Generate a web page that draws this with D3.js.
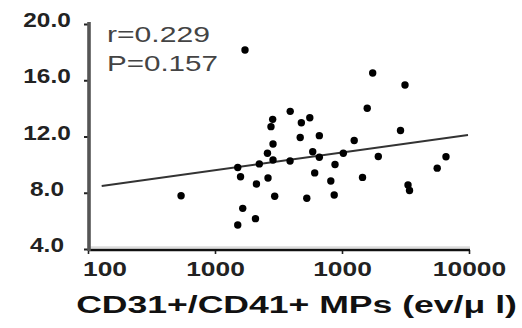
<!DOCTYPE html>
<html><head><meta charset="utf-8">
<script src="https://cdn.jsdelivr.net/npm/d3@7"></script>
<style>body{margin:0;background:#fff}svg{display:block}</style>
</head><body>
<script>
// ---- data ----
const xValues = [308, 667, 611, 632, 766, 649, 757, 611, 793, 875,
                 936, 881, 955, 936, 932, 913, 1152, 1318, 1460, 1300,
                 1638, 1150, 1512, 1638, 1549, 1408, 1882, 1961, 1980, 2189,
                 2497, 2922, 2761, 3341, 3122, 4613, 4370, 7572, 6809, 4785, 4873];
const yValues = [7.79, 18.15, 9.80, 9.14, 8.62, 6.89, 6.16, 5.71, 10.05, 10.81,
                 10.33, 9.05, 7.75, 11.47, 13.22, 12.70, 13.79, 12.98, 13.33, 11.93,
                 12.06, 10.26, 10.92, 10.52, 9.41, 7.61, 8.84, 7.84, 10.01, 10.81,
                 11.72, 14.01, 9.09, 10.58, 16.52, 15.66, 12.43, 10.56, 9.75, 8.55, 8.16];
const fitX = [118, 9880];
const fitY = [8.48, 12.11];
const xTickValues = [100, 464.16, 2154.4, 10000];
const xTickLabels = ["100", "1000", "1000", "10000"];
const yTickValues = [4, 8, 12, 16, 20];
const yTickLabels = ["4.0", "8.0", "12.0", "16.0", "20.0"];
const statLines = ["r=0.229", "P=0.157"];
const xTitle = "CD31+/CD41+ MPs (ev/\u03bc l)";

// ---- drawing ----
const W = 522, H = 328;
const svg = d3.select("body").append("svg").attr("width", W).attr("height", H);
const FONT = "'Liberation Sans', Arial, sans-serif";

const x = d3.scaleLog().domain([100, 10000]).range([88, 469]);
const y = d3.scaleLinear().domain([4, 20]).range([249, 24]);
const axisX0 = 89, axisY0 = 250;

// x axis
const gx = svg.append("g").attr("transform", `translate(0,${axisY0})`)
  .call(d3.axisBottom(x).tickValues(xTickValues)
    .tickFormat((d, i) => xTickLabels[i]).tickSize(4).tickSizeOuter(0));
gx.select(".domain").remove();
gx.selectAll(".tick line").attr("stroke", "#222").attr("stroke-width", 1.6);
gx.selectAll(".tick text")
  .attr("y", 0).attr("dy", null)
  .attr("fill", "#222")
  .style("font-family", FONT).style("font-size", "20px").style("font-weight", "bold")
  .attr("text-anchor", "middle")
  .attr("transform", (d, i) => `translate(${i === 0 ? 16.5 : 0},26) scale(1.32,1)`);

// x axis line (with faint shadow)
svg.append("line").attr("x1", x(100)).attr("x2", x(10000) + 1)
  .attr("y1", axisY0 - 2.8).attr("y2", axisY0 - 2.8)
  .attr("stroke", "#dcdcdc").attr("stroke-width", 2);
svg.append("line").attr("x1", x(100)).attr("x2", x(10000) + 1)
  .attr("y1", axisY0).attr("y2", axisY0)
  .attr("stroke", "#111").attr("stroke-width", 2.4);

// y axis
const gy = svg.append("g").attr("transform", `translate(${axisX0},0)`)
  .call(d3.axisLeft(y).tickValues(yTickValues)
    .tickFormat((d, i) => yTickLabels[i]).tickSize(5).tickSizeOuter(0));
gy.select(".domain").remove();
gy.selectAll(".tick line").attr("stroke", "#222").attr("stroke-width", 2);
gy.selectAll(".tick text")
  .attr("x", 0).attr("dy", null)
  .attr("fill", "#222")
  .style("font-family", FONT).style("font-size", "20px").style("font-weight", "bold")
  .attr("text-anchor", "middle")
  .attr("transform", `translate(${47 - axisX0},2.5) scale(1.22,1)`);

svg.append("line").attr("x1", axisX0).attr("x2", axisX0)
  .attr("y1", y(20) - 2).attr("y2", axisY0 + 1)
  .attr("stroke", "#555").attr("stroke-width", 3.6);

// regression line
svg.append("line")
  .attr("x1", x(fitX[0])).attr("y1", y(fitY[0]))
  .attr("x2", x(fitX[1])).attr("y2", y(fitY[1]))
  .attr("stroke", "#333").attr("stroke-width", 2);

// points
svg.append("g").selectAll("circle")
  .data(d3.range(xValues.length))
  .join("circle")
  .attr("cx", i => x(xValues[i]))
  .attr("cy", i => y(yValues[i]))
  .attr("r", 3.7)
  .attr("fill", "#000");

// helper: stretch text horizontally to a target width
function fitText(sel, tx, ty, target, anchor) {
  sel.attr("x", 0).attr("y", 0).attr("text-anchor", anchor);
  const w = sel.node().getComputedTextLength();
  sel.attr("transform", `translate(${tx},${ty}) scale(${target / w},1)`);
}

// stats
const statPos = [[107, 42, 103], [107, 71, 111]];
statLines.forEach((s, i) => {
  const t = svg.append("text").text(s)
    .style("font-family", FONT).style("font-size", "22px")
    .attr("fill", "#444");
  fitText(t, statPos[i][0], statPos[i][1], statPos[i][2], "start");
});

// x title
const tt = svg.append("text").text(xTitle)
  .style("font-family", FONT).style("font-size", "24px").style("font-weight", "bold")
  .attr("fill", "#111");
fitText(tt, 296.5, 313, 441, "middle");
</script>
</body></html>
